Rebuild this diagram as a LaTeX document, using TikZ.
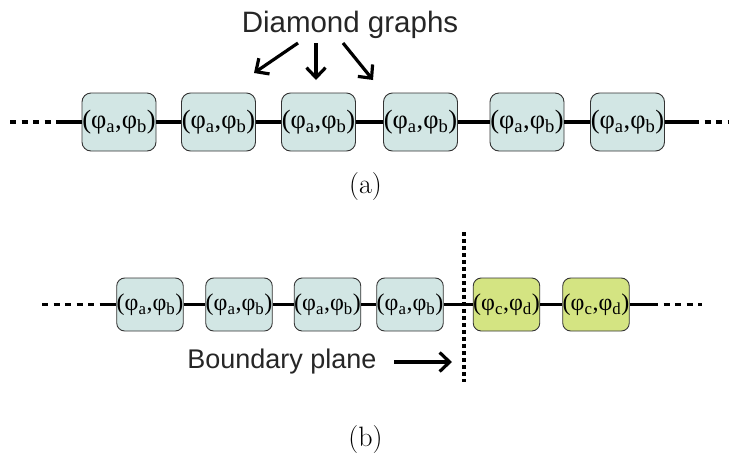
\documentclass[tikz,border=0pt]{standalone}
\usepackage{fontspec}
\setmainfont{Liberation Serif}
\newfontfamily\timesfont{Liberation Serif}
\newfontfamily\arialfont{Liberation Sans}
\newfontfamily\lmfont{Latin Modern Roman}
\usetikzlibrary{arrows.meta}
\definecolor{boxteal}{RGB}{210,230,228}
\definecolor{boxgreen}{RGB}{212,228,130}
\newcommand{\phab}{(φ\textsubscript{a},φ\textsubscript{b})}
\newcommand{\phcd}{(φ\textsubscript{c},φ\textsubscript{d})}
\tikzset{
  topbox/.style={draw=black!80, line width=0.9pt, rounded corners=9pt, fill=boxteal,
    minimum width=74pt, minimum height=58pt, inner sep=0pt,
    font=\timesfont\fontsize{26.5}{27}\selectfont},
  botbox/.style={draw=black!80, line width=0.9pt, rounded corners=8pt, fill=boxteal,
    minimum width=66pt, minimum height=53pt, inner sep=0pt,
    font=\timesfont\fontsize{24}{25}\selectfont},
  greenbox/.style={botbox, fill=boxgreen},
  link/.style={line width=3.6pt},
  dashlink/.style={line width=3.6pt, dash pattern=on 6pt off 5.5pt},
  bigarrow/.style={line width=3.2pt, -{Straight Barb[length=10pt,width=19pt,line width=3.2pt]}},
  labeltext/.style={font=\arialfont\fontsize{27}{28}\selectfont, text=black!85, inner sep=0pt},
  caption/.style={font=\lmfont\fontsize{28}{29}\selectfont, inner sep=0pt}
}
\begin{document}
\begin{tikzpicture}[x=1pt,y=-1pt]
\useasboundingbox (0,0) rectangle (732,459);
% (a) row
\node[topbox] (a1) at (119,122) {\phab};
\node[topbox] (a2) at (218.5,122) {\phab};
\node[topbox] (a3) at (318.5,122) {\phab};
\node[topbox] (a4) at (420.5,122) {\phab};
\node[topbox] (a5) at (527,122) {\phab};
\node[topbox] (a6) at (627.5,122) {\phab};
\coordinate (aL) at (10,122);
\coordinate (aLm) at (60,122);
\coordinate (aRm) at (693,122);
\coordinate (aR) at (728,122);
\draw[dashlink] (aL) -- (aLm);
\draw[link] (aLm) -- (a1.west);
\draw[link] (a1.east) -- (a2.west);
\draw[link] (a2.east) -- (a3.west);
\draw[link] (a3.east) -- (a4.west);
\draw[link] (a4.east) -- (a5.west);
\draw[link] (a5.east) -- (a6.west);
\draw[link] (a6.east) -- (aRm);
\draw[dashlink] (aRm) -- (aR);
\node[labeltext, font=\arialfont\fontsize{29.5}{30}\selectfont] (dg) at (350,25) {Diamond graphs};
\coordinate (s1) at (298,43);
\coordinate (s2) at (316,43);
\coordinate (s3) at (343,43);
\coordinate (e1) at (254,73);
\coordinate (e2) at (316,80);
\coordinate (e3) at (373,80);
\draw[bigarrow] (s1) -- (e1);
\draw[bigarrow] (s2) -- (e2);
\draw[bigarrow] (s3) -- (e3);
\node[caption] (capa) at (365.5,187) {(a)};
% (b) row
\node[botbox] (b1) at (150,304.5) {\phab};
\node[botbox] (b2) at (239,304.5) {\phab};
\node[botbox] (b3) at (327.5,304.5) {\phab};
\node[botbox] (b4) at (410,304.5) {\phab};
\node[greenbox] (g1) at (506.5,304.5) {\phcd};
\node[greenbox] (g2) at (596,304.5) {\phcd};
\coordinate (bL) at (42,304.5);
\coordinate (bLm) at (100,304.5);
\coordinate (bRm) at (652,304.5);
\coordinate (bR) at (702,304.5);
\draw[dashlink] (bL) -- (bLm);
\draw[link] (bLm) -- (b1.west);
\draw[link] (b1.east) -- (b2.west);
\draw[link] (b2.east) -- (b3.west);
\draw[link] (b3.east) -- (b4.west);
\draw[link] (b4.east) -- (g1.west);
\draw[link] (g1.east) -- (g2.west);
\draw[link] (g2.east) -- (bRm);
\draw[dashlink] (bRm) -- (bR);
\coordinate (pt) at (464,232);
\coordinate (pb) at (464,382);
\draw[line width=4pt, dash pattern=on 3.5pt off 3.5pt] (pt) -- (pb);
\node[labeltext] (bp) at (282,362) {Boundary plane};
\coordinate (ba1) at (394,362);
\coordinate (ba2) at (452,362);
\draw[bigarrow] (ba1) -- (ba2);
\node[caption] (capb) at (365.5,440) {(b)};
\end{tikzpicture}
\end{document}
